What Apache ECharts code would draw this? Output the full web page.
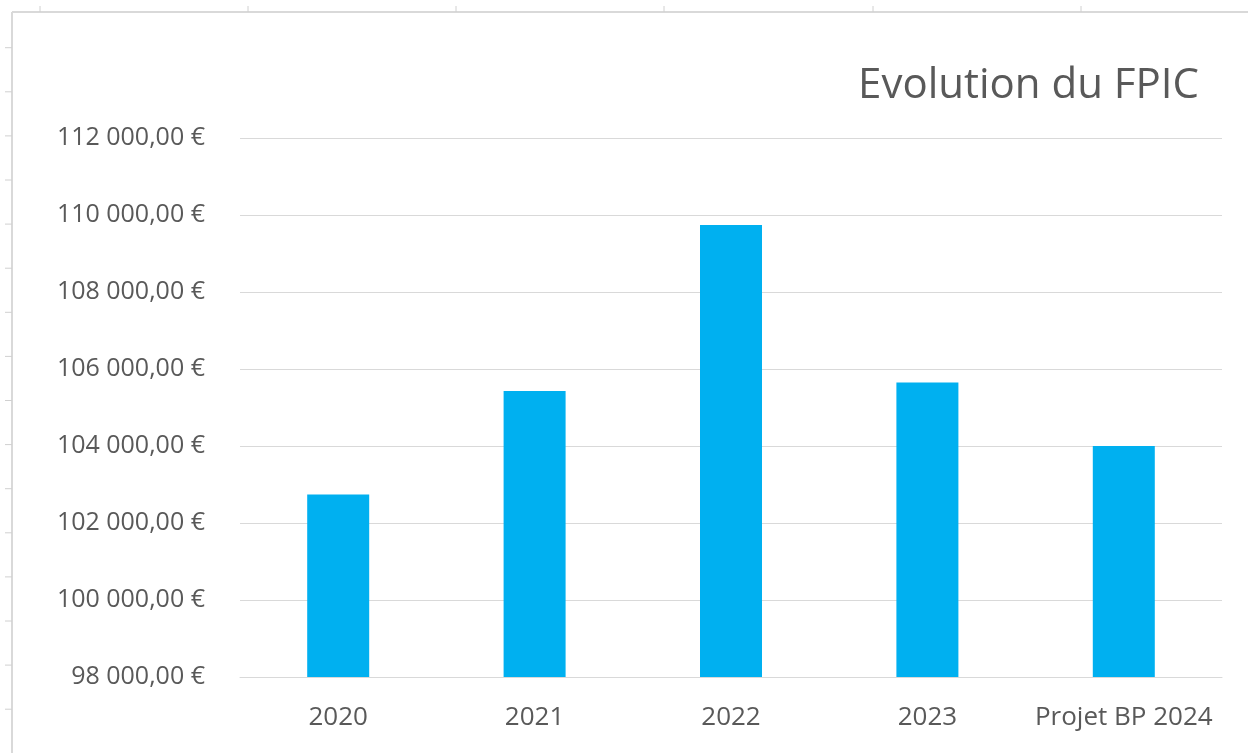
<!DOCTYPE html>
<html>
<head>
<meta charset="utf-8">
<script src="https://cdn.jsdelivr.net/npm/echarts@6/dist/echarts.min.js"></script>
<style>
html,body{margin:0;padding:0;background:#fff;}
#chart{width:1248px;height:753px;}
</style>
</head>
<body>
<div id="chart"></div>
<script>
var categories = ['2020', '2021', '2022', '2023', 'Projet BP 2024'];
var fpicValues = [102740, 105430, 109740, 105650, 104000];
var yTicks = [98000, 100000, 102000, 104000, 106000, 108000, 110000, 112000];

function fmtEuro(v) {
  var s = Math.round(v).toString().replace(/\B(?=(\d{3})+(?!\d))/g, ' ');
  return s + ',00 €';
}

// decorative frame (spreadsheet edge) with ticks
var frameEls = [
  {type:'line', shape:{x1:12, y1:12, x2:1248, y2:12}, style:{stroke:'#d9d9d9', lineWidth:2}, silent:true},
  {type:'line', shape:{x1:12, y1:12, x2:12, y2:753}, style:{stroke:'#d9d9d9', lineWidth:2}, silent:true}
];
[40, 248, 456, 664, 873, 1081].forEach(function(x){
  frameEls.push({type:'line', shape:{x1:x, y1:6, x2:x, y2:12}, style:{stroke:'#d0d0d0', lineWidth:1}, silent:true});
});
for (var k = 0; k < 16; k++) {
  var y = 47.7 + 44.1 * k;
  frameEls.push({type:'line', shape:{x1:5, y1:y, x2:12, y2:y}, style:{stroke:'#d0d0d0', lineWidth:1}, silent:true});
}

var FONT = '"Open Sans", Lato, sans-serif';
var chart = echarts.init(document.getElementById('chart'), null, {renderer:'canvas'});
chart.setOption({
  backgroundColor: '#ffffff',
  animation: false,
  title: {
    text: 'Evolution du FPIC',
    right: 44,
    top: 60,
    textStyle: {fontFamily: FONT, fontSize: 42, fontWeight: 'normal', color: '#595959'}
  },
  graphic: frameEls,
  grid: {left: 240, right: 26, top: 138, bottom: 76, containLabel: false},
  xAxis: {
    type: 'category',
    data: categories,
    axisLine: {show: true, lineStyle: {color: '#d9d9d9', width: 1}},
    axisTick: {show: false},
    axisLabel: {interval: 0, hideOverlap: false, fontFamily: FONT, fontSize: 26, color: '#595959', margin: 28}
  },
  yAxis: {
    type: 'value',
    min: yTicks[0],
    max: yTicks[yTicks.length - 1],
    interval: 2000,
    axisLine: {show: false},
    axisTick: {show: false},
    splitLine: {show: true, lineStyle: {color: '#d9d9d9', width: 1}},
    axisLabel: {fontFamily: FONT, fontSize: 25, color: '#595959', margin: 35, formatter: fmtEuro}
  },
  series: [{
    type: 'bar',
    data: fpicValues,
    barWidth: 62,
    itemStyle: {color: '#00b0f0'}
  }]
});
</script>
</body>
</html>
